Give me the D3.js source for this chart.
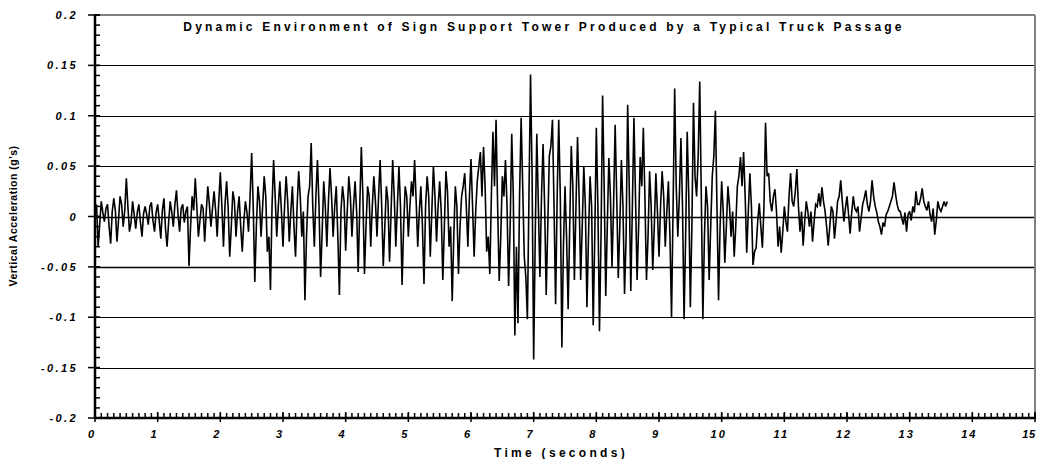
<!DOCTYPE html>
<html><head><meta charset="utf-8">
<script src="https://cdn.jsdelivr.net/npm/d3@7"></script>
<style>
html,body{margin:0;padding:0;background:#fff;}
text{font-family:"Liberation Sans",Arial,sans-serif;}
</style></head>
<body><svg id="c" width="1038" height="459"></svg>
<script>
const title = "Dynamic Environment of Sign Support Tower Produced by a Typical Truck Passage";
const xTitle = "Time (seconds)";
const yTitle = "Vertical Acceleration (g's)";
const xTicks = [0,1,2,3,4,5,6,7,8,9,10,11,12,13,14,15];
const yTicks = [0.2,0.15,0.1,0.05,0,-0.05,-0.1,-0.15,-0.2];
const yTickLabels = ["0.2","0.15","0.1","0.05","0","-0.05","-0.1","-0.15","-0.2"];
const dt = 0.025; // sample interval (s)
// acceleration samples (g), one row per second (row k starts at t = k s)
const sec0 = [0.005,0.012,-0.03,-0.008,0.015,0.004,-0.005,0.008,0.012,-0.01,-0.027,0.005,0.018,0.006,-0.025,-0.004,0.02,0.012,-0.01,0.006,0.038,0.01,-0.015,-0.006,0.015,0.002,-0.012,0.004,0.012,-0.006,-0.02,0.003,0.01,0.002,-0.008,0.01,0.014,-0.004,-0.015,0.004];
const sec1 = [0.012,-0.004,-0.022,0.006,0.018,-0.012,-0.03,-0.006,0.015,0.004,-0.01,0.012,0.026,0.002,-0.015,0.008,0.012,-0.006,0.005,0.01,-0.049,-0.01,0.02,0.006,0.038,0.01,-0.02,-0.004,0.012,0.008,-0.025,0.004,0.03,0.012,-0.01,0.008,0.025,0.006,-0.02,0.015];
const sec2 = [0.044,0.01,-0.03,0.012,0.035,0.008,-0.04,-0.01,0.025,0.015,-0.02,0.005,0.02,-0.01,-0.035,-0.005,0.015,0.004,-0.015,0.02,0.063,0.01,-0.065,-0.01,0.03,0.015,-0.02,0.01,0.04,0.02,-0.035,-0.02,-0.073,0.01,0.056,0.02,-0.02,0.01,0.035,0.005];
const sec3 = [-0.03,0.01,0.04,0.015,-0.025,0.005,0.03,-0.01,-0.04,0.01,0.045,0.02,-0.02,0.005,-0.083,-0.02,0.02,0.03,0.073,0.01,-0.03,0.02,0.056,0.01,-0.06,-0.015,0.035,0.01,-0.03,0.015,0.048,0.02,-0.02,0.01,0.03,-0.02,-0.078,0.005,0.03,0.015];
const sec4 = [-0.034,0.005,0.04,0.02,-0.02,0.01,0.035,0.005,-0.055,0.01,0.069,0.02,-0.057,-0.01,0.03,0.02,-0.03,0.01,0.04,0.015,-0.02,0.02,0.056,0.01,-0.049,-0.01,0.03,0.015,-0.045,0.005,0.056,0.02,-0.03,0.01,0.05,0.01,-0.068,-0.01,0.03,0.02];
const sec5 = [-0.02,0.01,0.035,0.02,0.056,0.015,-0.03,0.005,0.03,-0.01,-0.067,0.01,0.04,0.02,-0.04,0.005,0.05,0.02,-0.025,0.01,0.035,0.005,-0.063,-0.01,0.045,0.025,-0.03,-0.01,-0.084,-0.02,0.03,0.01,-0.057,-0.01,0.02,0.03,0.043,0.01,-0.03,0.02];
const sec6 = [0.057,0.01,-0.04,0.005,0.035,0.05,0.064,0.02,0.069,0.03,-0.035,-0.02,-0.057,0.02,0.084,0.03,0.096,0.01,-0.064,-0.02,0.04,0.02,0.056,0.01,-0.069,-0.01,0.082,0.02,-0.118,-0.03,-0.106,0.02,0.098,0.03,-0.04,-0.06,-0.102,0.02,0.141,0.04];
const sec7 = [-0.142,-0.02,0.082,0.01,-0.06,0.02,0.072,0.01,-0.078,-0.01,0.06,0.07,0.096,0.01,-0.087,0.02,0.096,0.02,-0.13,-0.03,0.03,-0.02,-0.092,-0.01,0.07,0.03,-0.063,0.01,0.079,0.02,-0.063,-0.01,0.05,0.01,-0.09,-0.02,0.04,0.01,-0.108,-0.02];
const sec8 = [0.088,0.01,-0.114,-0.02,0.12,0.03,-0.079,-0.01,0.058,0.02,-0.05,0.01,0.091,0.02,-0.061,-0.01,0.056,0.01,-0.077,-0.02,0.111,0.03,-0.074,0.01,0.098,0.02,-0.063,-0.01,0.059,0.03,0.088,0.02,-0.063,-0.02,0.045,0.01,-0.053,-0.01,0.043,0.005];
const sec9 = [-0.04,0.01,0.045,0.02,-0.03,0.005,0.035,-0.02,-0.1,0.01,0.127,0.03,-0.02,0.02,0.078,0.01,-0.102,-0.02,0.084,0.02,-0.09,-0.01,0.113,0.04,0.02,0.06,0.134,0.02,-0.102,-0.02,0.03,0.01,-0.063,-0.01,0.04,0.06,0.105,0.01,-0.083,-0.01];
const sec10 = [0.035,0.005,-0.046,-0.01,0.03,0.01,-0.02,0.005,-0.04,-0.01,0.03,0.04,0.059,0.03,0.064,0.02,-0.036,0.005,0.043,0.01,-0.048,-0.035,-0.031,-0.005,0.013,-0.01,-0.031,0.01,0.093,0.04,0.043,0.015,0.005,0.02,0.027,0.005,-0.03,-0.01,-0.036,-0.015];
const sec11 = [0.01,-0.005,-0.015,0.02,0.043,0.015,0.01,0.025,0.047,0.01,-0.015,0.005,-0.029,-0.005,0.015,0.005,-0.01,0.005,-0.025,-0.005,0.012,0.01,0.023,0.01,0.029,0.015,0.005,-0.01,-0.029,-0.01,0.01,0.005,-0.022,-0.005,0.015,0.02,0.036,0.015,-0.005,0.008];
const sec12 = [0.02,0.002,-0.017,0.004,0.02,0.008,0.005,0.01,-0.015,-0.002,0.012,0.018,0.026,0.012,0.005,0.015,0.036,0.02,0.01,0.004,-0.005,-0.01,-0.018,-0.006,-0.01,0.002,0.005,0.01,0.015,0.02,0.034,0.022,0.012,0.006,0.005,-0.002,-0.008,0.004,-0.015,0.002];
const sec13 = [0.005,-0.004,0.01,0.004,0.025,0.012,0.012,0.018,0.028,0.015,0.01,0.006,0.015,0.002,-0.005,0.008,-0.018,-0.004,0.015,0.008,0.005,0.01,0.015,0.01,0.015];

const rows = [sec0,sec1,sec2,sec3,sec4,sec5,sec6,sec7,sec8,sec9,sec10,sec11,sec12,sec13];
const data = [];
rows.forEach((row,k)=>row.forEach((v,j)=>data.push({t:k+j*dt, a:v})));

const L=95,R=1035,T=15,B=418;
const svg=d3.select("#c");
const x=d3.scaleLinear().domain([0,15]).range([L,R]);
const y=d3.scaleLinear().domain([-0.2,0.2]).range([B,T]);

// gridlines
svg.append("g").selectAll("line").data(yTicks.filter(v=>Math.abs(v)<0.19)).join("line")
  .attr("x1",L).attr("x2",R).attr("y1",d=>Math.round(y(d))+0.5).attr("y2",d=>Math.round(y(d))+0.5)
  .attr("stroke","#000").attr("stroke-width",d=>(d===0||Math.abs(d+0.05)<1e-9)?1.6:1);

// frame (top / right grey)
svg.append("line").attr("x1",L).attr("x2",R).attr("y1",T).attr("y2",T).attr("stroke","#808080").attr("stroke-width",2);
svg.append("line").attr("x1",R).attr("x2",R).attr("y1",T).attr("y2",B).attr("stroke","#808080").attr("stroke-width",2);

// signal
svg.append("path").datum(data)
  .attr("d",d3.line().x(d=>x(d.t)).y(d=>y(d.a)))
  .attr("fill","none").attr("stroke","#000").attr("stroke-width",1.6).attr("stroke-linejoin","miter").attr("stroke-miterlimit",3);

// y axis
const yMinor=d3.range(-20,21).map(i=>i/100);
svg.append("g").selectAll("line").data(yMinor).join("line")
  .attr("x1",L).attr("x2",L+5).attr("y1",d=>y(d)).attr("y2",d=>y(d)).attr("stroke","#000").attr("stroke-width",1.5);
svg.append("g").selectAll("line").data(yTicks).join("line")
  .attr("x1",L-7).attr("x2",L+5).attr("y1",d=>y(d)).attr("y2",d=>y(d)).attr("stroke","#000").attr("stroke-width",1.5);
svg.append("line").attr("x1",L).attr("x2",L).attr("y1",T-1).attr("y2",B+1).attr("stroke","#000").attr("stroke-width",2.5);
svg.append("g").selectAll("text").data(yTicks).join("text")
  .attr("x",L-17).attr("y",d=>y(d)+4).attr("text-anchor","end")
  .attr("font-size",11).attr("font-weight","bold").attr("font-style","italic").attr("letter-spacing",2.4)
  .text((d,i)=>yTickLabels[i]);

// x axis
const xMinor=d3.range(0,151).map(i=>i/10);
svg.append("g").selectAll("line").data(xMinor).join("line")
  .attr("x1",d=>x(d)).attr("x2",d=>x(d)).attr("y1",B).attr("y2",B-5).attr("stroke","#000").attr("stroke-width",1.5);
svg.append("g").selectAll("line").data(xTicks).join("line")
  .attr("x1",d=>x(d)).attr("x2",d=>x(d)).attr("y1",B+4).attr("y2",B-6).attr("stroke","#000").attr("stroke-width",1.5);
svg.append("line").attr("x1",L-1).attr("x2",R+1).attr("y1",B).attr("y2",B).attr("stroke","#000").attr("stroke-width",2.5);
const lastX = xTicks[xTicks.length-1];
svg.append("g").selectAll("text").data(xTicks).join("text")
  .attr("x",d=>d===lastX ? 1036 : x(d)-3).attr("y",B+20)
  .attr("text-anchor",d=>d===lastX ? "end" : "middle")
  .attr("font-size",11).attr("font-weight","bold").attr("font-style","italic")
  .attr("letter-spacing",d=>d===lastX ? 0.8 : 2)
  .text(d=>d);

// titles
svg.append("text").attr("x",544).attr("y",31).attr("text-anchor","middle")
  .attr("font-size",12).attr("font-weight","bold").attr("letter-spacing",3.2).text(title);
svg.append("text").attr("x",561).attr("y",457).attr("text-anchor","middle")
  .attr("font-size",12).attr("font-weight","bold").attr("letter-spacing",3.3).text(xTitle);
svg.append("text").attr("transform","translate(17,216) rotate(-90)").attr("text-anchor","middle")
  .attr("font-size",10.5).attr("font-weight","bold").attr("letter-spacing",0.5).text(yTitle);
</script></body></html>
